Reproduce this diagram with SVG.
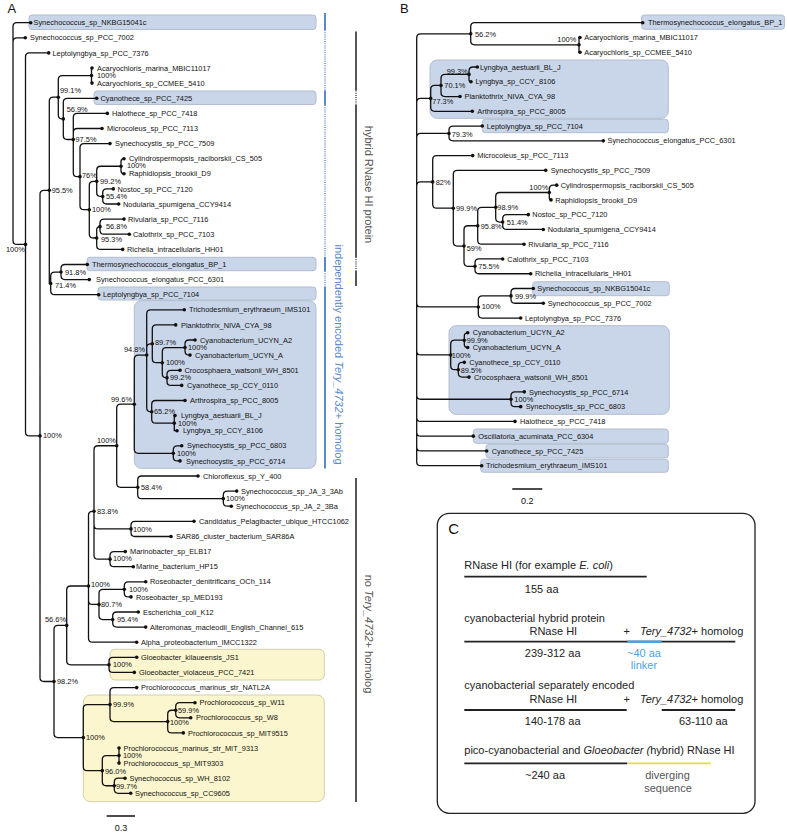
<svg xmlns="http://www.w3.org/2000/svg" width="787" height="834" viewBox="0 0 787 834">
<style>
text{font-family:"Liberation Sans",Arial,sans-serif;fill:#111}
.t{font-size:7.4px}
.b{font-size:7.4px}
.e{fill:none;stroke:#111;stroke-width:1.3;stroke-linecap:round}
.bx{fill:#c9d6e9;stroke:#b2bdcf;stroke-width:1}
.yb{fill:#fbf6cd;stroke:#d3cfac;stroke-width:1}
.pl{font-size:13px}
.c{font-size:11px;fill:#222}
.g{font-size:11px;fill:#555}
.bl{font-size:11px;fill:#5b88c8}
</style>
<defs>
<circle id="dt" r="1.8" fill="#111"/>
</defs>

<!-- panel labels -->
<text class="pl" x="7.5" y="12.5">A</text>
<text class="pl" x="400" y="12.7">B</text>

<!-- ===== Panel A highlight boxes ===== -->
<g id="a-boxes">
<rect class="bx" x="29" y="15" width="287" height="14.5" rx="3"/>
<rect class="bx" x="94" y="91" width="222" height="13.5" rx="3"/>
<rect class="bx" x="87" y="257.3" width="229" height="13.4" rx="3"/>
<rect class="bx" x="98" y="287" width="218" height="13" rx="3"/>
<rect class="bx" x="134.3" y="300.7" width="181.7" height="167.6" rx="7"/>
<rect class="yb" x="110" y="649.3" width="214.3" height="30.7" rx="5"/>
<rect class="yb" x="83.3" y="695" width="241" height="106.7" rx="7"/>
</g>

<!-- ===== Panel B highlight boxes ===== -->
<g id="b-boxes">
<rect class="bx" x="641.5" y="15" width="143" height="14.3" rx="3"/>
<rect class="bx" x="430" y="60" width="238.3" height="58.3" rx="7"/>
<rect class="bx" x="482.3" y="119.3" width="186" height="13.4" rx="3"/>
<rect class="bx" x="532.7" y="281.7" width="136.6" height="14" rx="3"/>
<rect class="bx" x="449" y="325.7" width="220.3" height="88.6" rx="7"/>
<rect class="bx" x="473.3" y="429" width="195" height="14.3" rx="3"/>
<rect class="bx" x="486" y="444.3" width="182.3" height="13.7" rx="3"/>
<rect class="bx" x="480.7" y="459.3" width="187.6" height="13" rx="3"/>
</g>

<!-- ===== Connectors ===== -->
<g id="connectors">
<path class="e" d="M13 101.6 V26.7 Q13 22.7 17 22.7 H30.7 M13 101.6 V41.8 Q13 37.8 17 37.8 H25.3 M13 101.6 V240.4 Q13 244.4 17 244.4 H25.5
M25.5 244.4 V56.9 Q25.5 52.9 29.5 52.9 H48.7 M25.5 244.4 V431.9 Q25.5 435.9 29.5 435.9 H40
M40 435.9 V194.3 Q40 190.3 44 190.3 H49.3 M40 435.9 V677.5 Q40 681.5 44 681.5 H54
M49.3 190.3 V101.2 Q49.3 97.2 53.3 97.2 H58.3 M49.3 190.3 V283.4 H50.7
M58.3 97.2 V79.55 Q58.3 75.55 62.3 75.55 H91.5 M58.3 97.2 V114.9 Q58.3 118.9 62.3 118.9 H63.3
M91.5 75.55 V68 H92 M91.5 75.55 V83.1 H92
M63.3 118.9 V102.3 Q63.3 98.3 67.3 98.3 H96.7 M63.3 118.9 V135.5 Q63.3 139.5 67.3 139.5 H73.3
M73.3 139.5 V117.4 Q73.3 113.4 77.3 113.4 H107.3 M73.3 139.5 V132.5 Q73.3 128.5 77.3 128.5 H102 M73.3 139.5 V172.65 Q73.3 176.65 77.3 176.65 H80
M80 176.65 V147.6 Q80 143.6 84 143.6 H110 M80 176.65 V205.7 Q80 209.7 84 209.7 H89.3
M89.3 209.7 V185.35 Q89.3 181.35 93.3 181.35 H96.7 M89.3 209.7 V234 Q89.3 238 93.3 238 H96.7
M96.7 181.35 V170.25 Q96.7 166.25 100.7 166.25 H121 M96.7 181.35 V192.45 Q96.7 196.45 100.7 196.45 H102.7
M121 166.25 V161.7 Q121 158.7 124 158.7 M121 166.25 V170.8 Q121 173.8 124 173.8
M102.7 196.45 V192.9 Q102.7 188.9 106.7 188.9 H113.3 M102.7 196.45 V200 Q102.7 204 106.7 204 H118.7
M96.7 238 V229.95 Q96.7 226.65 100 226.65 M96.7 238 V245.4 Q96.7 249.4 100.7 249.4 H122.7
M100 226.65 V223.1 Q100 219.1 104 219.1 H124 M100 226.65 V230.2 Q100 234.2 104 234.2 H129.3
M50.7 283.4 V276.05 Q50.7 272.05 54.7 272.05 H61 M50.7 283.4 V290.7 Q50.7 294.7 54.7 294.7 H98.7
M61 272.05 V268.5 Q61 264.5 65 264.5 H87.3 M61 272.05 V275.6 Q61 279.6 65 279.6 H89.3
M54 681.5 V629.4 Q54 625.4 58 625.4 H66.7 M54 681.5 V733.6 Q54 737.6 58 737.6 H83.3
M66.7 625.4 V590 Q66.7 586 70.7 586 H88.5 M66.7 625.4 V660.85 Q66.7 664.85 70.7 664.85 H109
M88.5 586 V515.3 Q88.5 511.3 92.5 511.3 H94 M88.5 586 V600.45 Q88.5 604.45 92.5 604.45 H99 M88.5 586 V638.2 Q88.5 642.2 92.5 642.2 H136.7
M94 511.3 V449.75 Q94 445.75 98 445.75 H116.7 M94 511.3 V524.9 Q94 528.9 98 528.9 H131 M94 511.3 V555.15 Q94 559.15 98 559.15 H110
M116.7 445.75 V408.2 Q116.7 404.2 120.7 404.2 H134.3 M116.7 445.75 V483.3 Q116.7 487.3 120.7 487.3 H137.7
M134.3 404.2 V359.1 Q134.3 355.1 138.3 355.1 H146.7 M134.3 404.2 V449.35 Q134.3 453.35 138.3 453.35 H173.3
M146.7 355.1 V313.8 Q146.7 309.8 150.7 309.8 H184.3 M146.7 355.1 V347.8 Q146.7 343.8 150.7 343.8 H152.3 M146.7 355.1 V407.8 Q146.7 411.8 150.7 411.8 H151.7
M152.3 343.8 V328.9 Q152.3 324.9 156.3 324.9 H175.7 M152.3 343.8 V358.7 Q152.3 362.7 156.3 362.7 H162.3
M162.3 362.7 V351.55 Q162.3 347.55 166.3 347.55 H185 M162.3 362.7 V373.85 Q162.3 377.85 166.3 377.85 H167
M185 347.55 V344 Q185 340 189 340 H195 M185 347.55 V351.1 Q185 355.1 189 355.1 H190
M167 377.85 V374.3 Q167 370.3 171 370.3 H180 M167 377.85 V381.4 Q167 385.4 171 385.4 H181.7
M151.7 411.8 V404.5 Q151.7 400.5 155.7 400.5 H185 M151.7 411.8 V419.15 Q151.7 423.15 155.7 423.15 H174.3
M174.3 423.15 V415.6 H175 M174.3 423.15 V430.7 H177
M173.3 453.35 V449.8 Q173.3 445.8 177.3 445.8 H181.7 M173.3 453.35 V456.9 Q173.3 460.9 177.3 460.9 H180
M137.7 487.3 V480 Q137.7 476 141.7 476 H198 M137.7 487.3 V494.65 Q137.7 498.65 141.7 498.65 H223.3
M223.3 498.65 V495.1 Q223.3 491.1 227.3 491.1 H236.7 M223.3 498.65 V502.2 Q223.3 506.2 227.3 506.2 H231.3
M131 528.9 V525.3 Q131 521.3 135 521.3 H194 M131 528.9 V532.5 Q131 536.5 135 536.5 H171
M110 559.15 V555.6 Q110 551.6 114 551.6 H125.3 M110 559.15 V562.7 Q110 566.7 114 566.7 H133.3
M99 604.45 V593.35 Q99 589.35 103 589.35 H124.3 M99 604.45 V615.55 Q99 619.55 103 619.55 H112.7
M124.3 589.35 V585.8 Q124.3 581.8 128.3 581.8 H145.7 M124.3 589.35 V592.9 Q124.3 596.9 128.3 596.9 H131
M112.7 619.55 V616 Q112.7 612 116.7 612 H138.3 M112.7 619.55 V623.1 Q112.7 627.1 116.7 627.1 H145.7
M109 664.85 V661.3 Q109 657.3 113 657.3 H136.7 M109 664.85 V668.4 Q109 672.4 113 672.4 H134.3
M83.3 737.6 V708.6 Q83.3 704.6 87.3 704.6 H110 M83.3 737.6 V766.65 Q83.3 770.65 87.3 770.65 H102.3
M110 704.6 V691.6 Q110 687.6 114 687.6 H136.7 M110 704.6 V717.6 Q110 721.6 114 721.6 H167.7
M167.7 721.6 V714.25 Q167.7 710.25 171.7 710.25 H175.7 M167.7 721.6 V728.9 Q167.7 732.9 171.7 732.9 H183.3
M175.7 710.25 V706.7 Q175.7 702.7 179.7 702.7 H195 M175.7 710.25 V713.8 Q175.7 717.8 179.7 717.8 H190.7
M102.3 770.65 V759.55 Q102.3 755.55 106.3 755.55 H119 M102.3 770.65 V781.75 Q102.3 785.75 106.3 785.75 H114.3
M119 748 V763.1
M114.3 785.75 V782.2 Q114.3 778.2 118.3 778.2 H125 M114.3 785.75 V789.3 Q114.3 793.3 118.3 793.3 H130.7"/>
<path class="e" d="M416.7 250 V37.78 Q416.7 33.78 420.7 33.78 H470.7 M416.7 250 V102.38 Q416.7 98.38 420.7 98.38 H430.7 M416.7 250 V137.45 Q416.7 133.45 420.7 133.45 H449 M416.7 250 V185.9 Q416.7 181.9 420.7 181.9 H432.7
M416.7 250 V302.96 Q416.7 306.96 420.7 306.96 H478.3 M416.7 250 V350.95 Q416.7 354.95 420.7 354.95 H450.7 M416.7 250 V395.25 Q416.7 399.25 420.7 399.25 H511 M416.7 250 V417.4 Q416.7 421.4 420.7 421.4 H515 M416.7 250 V432.17 Q416.7 436.17 420.7 436.17 H473.3 M416.7 250 V446.93 Q416.7 450.93 420.7 450.93 H486.7 M416.7 250 V461.7 Q416.7 465.7 420.7 465.7 H481.7
M470.7 33.78 V26.7 Q470.7 22.7 474.7 22.7 H642.7 M470.7 33.78 V40.85 Q470.7 44.85 474.7 44.85 H579
M579 44.85 V37.47 H580 M579 44.85 V52.23 H580
M430.7 98.38 V89.46 Q430.7 85.46 434.7 85.46 H441 M430.7 98.38 V107.3 Q430.7 111.3 434.7 111.3 H472.3
M441 85.46 V78.38 Q441 74.38 445 74.38 H469 M441 85.46 V92.53 Q441 96.53 445 96.53 H460
M469 74.38 V71 Q469 67 473 67 H477.3 M469 74.38 V79.77 Q469 81.77 471 81.77
M449 133.45 V130.07 Q449 126.07 453 126.07 H482.3 M449 133.45 V136.83 Q449 140.83 453 140.83 H603.3
M432.7 181.9 V159.6 Q432.7 155.6 436.7 155.6 H472.7 M432.7 181.9 V204.21 Q432.7 208.21 436.7 208.21 H453.3
M453.3 208.21 V174.37 Q453.3 170.37 457.3 170.37 H545.7 M453.3 208.21 V242.05 Q453.3 246.05 457.3 246.05 H464
M464 246.05 V229.74 Q464 225.74 468 225.74 H477.7 M464 246.05 V262.35 Q464 266.35 468 266.35 H475
M477.7 225.74 V211.28 Q477.7 207.28 481.7 207.28 H495.7 M477.7 225.74 V240.2 Q477.7 244.2 481.7 244.2 H524
M495.7 207.28 V196.52 Q495.7 192.52 499.7 192.52 H549.3 M495.7 207.28 V218.05 Q495.7 222.05 499.7 222.05 H502.7
M549.3 192.52 V189.13 Q549.3 185.13 553.3 185.13 H556.7 M549.3 192.52 V198.2 Q549.3 199.9 551 199.9
M502.7 222.05 V218.67 Q502.7 214.67 506.7 214.67 H528.3 M502.7 222.05 V225.43 Q502.7 229.43 506.7 229.43 H543.3
M475 266.35 V262.97 Q475 258.97 479 258.97 H502.7 M475 266.35 V269.73 Q475 273.73 479 273.73 H530.7
M478.3 306.96 V299.88 Q478.3 295.88 482.3 295.88 H511 M478.3 306.96 V314.03 Q478.3 318.03 482.3 318.03 H520.7
M511 295.88 V292.5 Q511 288.5 515 288.5 H533.3 M511 295.88 V299.27 Q511 303.27 515 303.27 H543.3
M450.7 354.95 V344.18 Q450.7 340.18 454.7 340.18 H464.3 M450.7 354.95 V365.72 Q450.7 369.72 454.7 369.72 H458.3
M464.3 340.18 V336.2 Q464.3 332.8 467.7 332.8 M464.3 340.18 V344.17 Q464.3 347.57 467.7 347.57
M458.3 369.72 V366.33 Q458.3 362.33 462.3 362.33 H464.3 M458.3 369.72 V373.1 Q458.3 377.1 462.3 377.1 H469
M511 399.25 V395.87 Q511 391.87 515 391.87 H524.3 M511 399.25 V402.63 Q511 406.63 515 406.63 H520.7"/>
</g>

<!-- ===== Panel A leaves ===== -->
<g id="a-leaves" class="t">
<g id="a-L1"><use href="#dt" x="30.7" y="22.7"/><text x="33.5" y="25.3">Synechococcus_sp_NKBG15041c</text></g>
<g id="a-L2"><use href="#dt" x="25.3" y="37.8"/><text x="30" y="40.4">Synechococcus_sp_PCC_7002</text></g>
<g id="a-L3"><use href="#dt" x="48.7" y="52.9"/><text x="52.5" y="55.5">Leptolyngbya_sp_PCC_7376</text></g>
<g id="a-L4"><use href="#dt" x="92" y="68"/><text x="97" y="70.6">Acaryochloris_marina_MBIC11017</text></g>
<g id="a-L5"><use href="#dt" x="92" y="83.1"/><text x="97" y="85.7">Acaryochloris_sp_CCMEE_5410</text></g>
<g id="a-L6"><use href="#dt" x="96.7" y="98.3"/><text x="100.5" y="100.9">Cyanothece_sp_PCC_7425</text></g>
<g id="a-L7"><use href="#dt" x="107.3" y="113.4"/><text x="112" y="116">Halothece_sp_PCC_7418</text></g>
<g id="a-L8"><use href="#dt" x="102" y="128.5"/><text x="107" y="131.1">Microcoleus_sp_PCC_7113</text></g>
<g id="a-L9"><use href="#dt" x="110" y="143.6"/><text x="115" y="146.2">Synechocystis_sp_PCC_7509</text></g>
<g id="a-L10"><use href="#dt" x="124" y="158.7"/><text x="129" y="161.3">Cylindrospermopsis_raciborskii_CS_505</text></g>
<g id="a-L11"><use href="#dt" x="124" y="173.8"/><text x="129" y="176.4">Raphidiopsis_brookii_D9</text></g>
<g id="a-L12"><use href="#dt" x="113.3" y="188.9"/><text x="117.5" y="191.5">Nostoc_sp_PCC_7120</text></g>
<g id="a-L13"><use href="#dt" x="118.7" y="204"/><text x="123" y="206.6">Nodularia_spumigena_CCY9414</text></g>
<g id="a-L14"><use href="#dt" x="124" y="219.1"/><text x="128" y="221.7">Rivularia_sp_PCC_7116</text></g>
<g id="a-L15"><use href="#dt" x="129.3" y="234.2"/><text x="133" y="236.8">Calothrix_sp_PCC_7103</text></g>
<g id="a-L16"><use href="#dt" x="122.7" y="249.4"/><text x="127" y="252">Richelia_intracellularis_HH01</text></g>
<g id="a-L17"><use href="#dt" x="87.3" y="264.5"/><text x="92" y="267.1">Thermosynechococcus_elongatus_BP_1</text></g>
<g id="a-L18"><use href="#dt" x="89.3" y="279.6"/><text x="96" y="282.2">Synechococcus_elongatus_PCC_6301</text></g>
<g id="a-L19"><use href="#dt" x="98.7" y="294.7"/><text x="103" y="297.3">Leptolyngbya_sp_PCC_7104</text></g>
<g id="a-L20"><use href="#dt" x="184.3" y="309.8"/><text x="189" y="312.4">Trichodesmium_erythraeum_IMS101</text></g>
<g id="a-L21"><use href="#dt" x="175.7" y="324.9"/><text x="181" y="327.5">Planktothrix_NIVA_CYA_98</text></g>
<g id="a-L22"><use href="#dt" x="195" y="340"/><text x="200" y="342.6">Cyanobacterium_UCYN_A2</text></g>
<g id="a-L23"><use href="#dt" x="190" y="355.1"/><text x="195" y="357.7">Cyanobacterium_UCYN_A</text></g>
<g id="a-L24"><use href="#dt" x="180" y="370.3"/><text x="184.5" y="372.9">Crocosphaera_watsonii_WH_8501</text></g>
<g id="a-L25"><use href="#dt" x="181.7" y="385.4"/><text x="187" y="388">Cyanothece_sp_CCY_0110</text></g>
<g id="a-L26"><use href="#dt" x="185" y="400.5"/><text x="190" y="403.1">Arthrospira_sp_PCC_8005</text></g>
<g id="a-L27"><use href="#dt" x="175" y="415.6"/><text x="181" y="418.2">Lyngbya_aestuarii_BL_J</text></g>
<g id="a-L28"><use href="#dt" x="177" y="430.7"/><text x="183" y="433.3">Lyngbya_sp_CCY_8106</text></g>
<g id="a-L29"><use href="#dt" x="181.7" y="445.8"/><text x="187" y="448.4">Synechocystis_sp_PCC_6803</text></g>
<g id="a-L30"><use href="#dt" x="180" y="460.9"/><text x="186" y="463.5">Synechocystis_sp_PCC_6714</text></g>
<g id="a-L31"><use href="#dt" x="198" y="476"/><text x="203" y="478.6">Chloroflexus_sp_Y_400</text></g>
<g id="a-L32"><use href="#dt" x="236.7" y="491.1"/><text x="241" y="493.7">Synechococcus_sp_JA_3_3Ab</text></g>
<g id="a-L33"><use href="#dt" x="231.3" y="506.2"/><text x="236" y="508.8">Synechococcus_sp_JA_2_3Ba</text></g>
<g id="a-L34"><use href="#dt" x="194" y="521.3"/><text x="199" y="523.9">Candidatus_Pelagibacter_ubique_HTCC1062</text></g>
<g id="a-L35"><use href="#dt" x="171" y="536.5"/><text x="176" y="539.1">SAR86_cluster_bacterium_SAR86A</text></g>
<g id="a-L36"><use href="#dt" x="125.3" y="551.6"/><text x="130" y="554.2">Marinobacter_sp_ELB17</text></g>
<g id="a-L37"><use href="#dt" x="133.3" y="566.7"/><text x="136" y="569.3">Marine_bacterium_HP15</text></g>
<g id="a-L38"><use href="#dt" x="145.7" y="581.8"/><text x="150" y="584.4">Roseobacter_denitrificans_OCh_114</text></g>
<g id="a-L39"><use href="#dt" x="131" y="596.9"/><text x="136" y="599.5">Roseobacter_sp_MED193</text></g>
<g id="a-L40"><use href="#dt" x="138.3" y="612"/><text x="143" y="614.6">Escherichia_coli_K12</text></g>
<g id="a-L41"><use href="#dt" x="145.7" y="627.1"/><text x="150" y="629.7">Alteromonas_macleodii_English_Channel_615</text></g>
<g id="a-L42"><use href="#dt" x="136.7" y="642.2"/><text x="141" y="644.8">Alpha_proteobacterium_IMCC1322</text></g>
<g id="a-L43"><use href="#dt" x="136.7" y="657.3"/><text x="141" y="659.9">Gloeobacter_kilaueensis_JS1</text></g>
<g id="a-L44"><use href="#dt" x="134.3" y="672.4"/><text x="139" y="675">Gloeobacter_violaceus_PCC_7421</text></g>
<g id="a-L45"><use href="#dt" x="136.7" y="687.6"/><text x="141" y="690.2">Prochlorococcus_marinus_str_NATL2A</text></g>
<g id="a-L46"><use href="#dt" x="195" y="702.7"/><text x="199.5" y="705.3">Prochlorococcus_sp_W11</text></g>
<g id="a-L47"><use href="#dt" x="190.7" y="717.8"/><text x="196" y="720.4">Prochlorococcus_sp_W8</text></g>
<g id="a-L48"><use href="#dt" x="183.3" y="732.9"/><text x="188" y="735.5">Prochlorococcus_sp_MIT9515</text></g>
<g id="a-L49"><use href="#dt" x="119" y="748"/><text x="123.5" y="750.6">Prochlorococcus_marinus_str_MIT_9313</text></g>
<g id="a-L50"><use href="#dt" x="119" y="763.1"/><text x="123.5" y="765.7">Prochlorococcus_sp_MIT9303</text></g>
<g id="a-L51"><use href="#dt" x="125" y="778.2"/><text x="129.5" y="780.8">Synechococcus_sp_WH_8102</text></g>
<g id="a-L52"><use href="#dt" x="130.7" y="793.3"/><text x="135" y="795.9">Synechococcus_sp_CC9605</text></g>
</g>

<!-- ===== Panel A internal nodes ===== -->
<g id="a-internal" class="b">
<g id="a-n1"><use href="#dt" x="91.5" y="75.55"/><text x="97" y="77.9">100%</text></g>
<g id="a-n2"><use href="#dt" x="58.3" y="97.2"/><text x="60" y="93.3">99.1%</text></g>
<g id="a-n3"><use href="#dt" x="63.3" y="118.9"/><text x="66.7" y="111.6">56.9%</text></g>
<g id="a-n4"><use href="#dt" x="73.3" y="139.5"/><text x="75.5" y="141.6">97.5%</text></g>
<g id="a-n5"><use href="#dt" x="121" y="166.25"/><text x="127" y="168.3">100%</text></g>
<g id="a-n6"><use href="#dt" x="80" y="176.65"/><text x="82" y="177.6">76%</text></g>
<g id="a-n7"><use href="#dt" x="96.7" y="181.35"/><text x="100" y="184.3">99.2%</text></g>
<g id="a-n8"><use href="#dt" x="49.3" y="190.3"/><text x="51.7" y="193.3">95.5%</text></g>
<g id="a-n9"><use href="#dt" x="102.7" y="196.45"/><text x="106" y="199.3">55.4%</text></g>
<g id="a-n10"><use href="#dt" x="89.3" y="209.7"/><text x="92" y="212.3">100%</text></g>
<g id="a-n11"><use href="#dt" x="100" y="226.65"/><text x="106" y="229.3">56.8%</text></g>
<g id="a-n12"><use href="#dt" x="96.7" y="238"/><text x="101" y="241.6">95.3%</text></g>
<g id="a-n13"><use href="#dt" x="25.5" y="244.4"/><text x="6" y="251.9">100%</text></g>
<g id="a-n14"><use href="#dt" x="61" y="272.05"/><text x="65" y="275.3">91.8%</text></g>
<g id="a-n15"><use href="#dt" x="50.7" y="283.4"/><text x="55" y="288.3">71.4%</text></g>
<g id="a-n16"><use href="#dt" x="152.3" y="343.8"/><text x="155" y="345.3">89.7%</text></g>
<g id="a-n17"><use href="#dt" x="185" y="347.55"/><text x="188" y="349.9">100%</text></g>
<g id="a-n18"><use href="#dt" x="146.7" y="355.1"/><text x="124" y="352.3">94.8%</text></g>
<g id="a-n19"><use href="#dt" x="162.3" y="362.7"/><text x="166" y="364.6">100%</text></g>
<g id="a-n20"><use href="#dt" x="167" y="377.85"/><text x="170" y="380.3">99.2%</text></g>
<g id="a-n21"><use href="#dt" x="134.3" y="404.2"/><text x="111" y="401.9">99.6%</text></g>
<g id="a-n22"><use href="#dt" x="151.7" y="411.8"/><text x="154" y="414.3">65.2%</text></g>
<g id="a-n23"><use href="#dt" x="174.3" y="423.15"/><text x="178" y="425.9">100%</text></g>
<g id="a-n24"><use href="#dt" x="40" y="435.9"/><text x="43" y="438.3">100%</text></g>
<g id="a-n25"><use href="#dt" x="116.7" y="445.75"/><text x="97" y="442.9">100%</text></g>
<g id="a-n26"><use href="#dt" x="173.3" y="453.35"/><text x="177" y="455.9">100%</text></g>
<g id="a-n27"><use href="#dt" x="137.7" y="487.3"/><text x="141" y="489.9">58.4%</text></g>
<g id="a-n28"><use href="#dt" x="223.3" y="498.65"/><text x="226" y="501.3">100%</text></g>
<g id="a-n29"><use href="#dt" x="94" y="511.3"/><text x="97" y="513.6">83.8%</text></g>
<g id="a-n30"><use href="#dt" x="131" y="528.9"/><text x="133" y="531.6">100%</text></g>
<g id="a-n31"><use href="#dt" x="110" y="559.15"/><text x="113" y="560.9">100%</text></g>
<g id="a-n32"><use href="#dt" x="88.5" y="586"/><text x="91" y="586.6">100%</text></g>
<g id="a-n33"><use href="#dt" x="124.3" y="589.35"/><text x="129" y="591.9">100%</text></g>
<g id="a-n34"><use href="#dt" x="99" y="604.45"/><text x="101" y="606.6">80.7%</text></g>
<g id="a-n35"><use href="#dt" x="66.7" y="625.4"/><text x="45" y="622.3">56.6%</text></g>
<g id="a-n36"><use href="#dt" x="112.7" y="619.55"/><text x="117" y="622.3">95.4%</text></g>
<g id="a-n37"><use href="#dt" x="109" y="664.85"/><text x="113" y="667.3">100%</text></g>
<g id="a-n38"><use href="#dt" x="54" y="681.5"/><text x="57" y="683.9">98.2%</text></g>
<g id="a-n39"><use href="#dt" x="110" y="704.6"/><text x="113" y="706.9">99.9%</text></g>
<g id="a-n40"><use href="#dt" x="175.7" y="710.25"/><text x="178" y="712.9">59.9%</text></g>
<g id="a-n41"><use href="#dt" x="167.7" y="721.6"/><text x="170" y="724.9">100%</text></g>
<g id="a-n42"><use href="#dt" x="83.3" y="737.6"/><text x="86" y="739.6">100%</text></g>
<g id="a-n43"><use href="#dt" x="119" y="755.55"/><text x="123" y="757.9">100%</text></g>
<g id="a-n44"><use href="#dt" x="102.3" y="770.65"/><text x="105" y="773.6">96.0%</text></g>
<g id="a-n45"><use href="#dt" x="114.3" y="785.75"/><text x="116" y="788.6">99.7%</text></g>
</g>

<!-- ===== Panel A side annotations ===== -->
<g id="a-annot">
<g fill="none" stroke="#5b88c8">
<path stroke-width="2" d="M325 13 V30 M325 90.5 V105 M325 257 V271 M325 286.5 V468.5"/>
<path stroke-width="1.4" stroke-dasharray="1 1.2" d="M325 30 V90.5 M325 105 V257 M325 271 V286.5"/>
</g>
<g fill="none" stroke="#555">
<path stroke-width="2" d="M356 31.5 V90.5 M356 105 V257 M356 271 V286 M356 478 V802"/>
<path stroke-width="1.6" stroke-dasharray="1 1.2" d="M356 90.5 V105 M356 257 V271"/>
</g>
<text class="g" text-anchor="middle" transform="translate(368.5 184.5) rotate(90)" y="4">hybrid RNase HI protein</text>
<text class="bl" text-anchor="middle" transform="translate(338.5 354.5) rotate(90)" y="4">independently encoded <tspan font-style="italic">Tery_4732</tspan>+ homolog</text>
<text class="g" text-anchor="middle" transform="translate(368.5 634) rotate(90)" y="4">no <tspan font-style="italic">Tery_4732</tspan>+ homolog</text>
<path d="M106.7 816 H135" stroke="#111" stroke-width="1.5"/>
<text x="121" y="831" font-size="9" text-anchor="middle">0.3</text>
</g>

<!-- ===== Panel B leaves ===== -->
<g id="b-leaves" class="t">
<g id="b-L0"><use href="#dt" x="642.7" y="22.7"/><text x="648" y="25.3">Thermosynechococcus_elongatus_BP_1</text></g>
<g id="b-L1"><use href="#dt" x="580" y="37.47"/><text x="584.3" y="40.1">Acaryochloris_marina_MBIC11017</text></g>
<g id="b-L2"><use href="#dt" x="580" y="52.23"/><text x="584.3" y="54.8">Acaryochloris_sp_CCMEE_5410</text></g>
<g id="b-L3"><use href="#dt" x="477.3" y="67"/><text x="480" y="69.6">Lyngbya_aestuarii_BL_J</text></g>
<g id="b-L4"><use href="#dt" x="471" y="81.77"/><text x="475.5" y="84.4">Lyngbya_sp_CCY_8106</text></g>
<g id="b-L5"><use href="#dt" x="460" y="96.53"/><text x="464.5" y="99.1">Planktothrix_NIVA_CYA_98</text></g>
<g id="b-L6"><use href="#dt" x="472.3" y="111.3"/><text x="477.3" y="113.9">Arthrospira_sp_PCC_8005</text></g>
<g id="b-L7"><use href="#dt" x="482.3" y="126.07"/><text x="486.7" y="128.7">Leptolyngbya_sp_PCC_7104</text></g>
<g id="b-L8"><use href="#dt" x="603.3" y="140.83"/><text x="607.5" y="143.4">Synechococcus_elongatus_PCC_6301</text></g>
<g id="b-L9"><use href="#dt" x="472.7" y="155.6"/><text x="477.3" y="158.2">Microcoleus_sp_PCC_7113</text></g>
<g id="b-L10"><use href="#dt" x="545.7" y="170.37"/><text x="550.7" y="173">Synechocystis_sp_PCC_7509</text></g>
<g id="b-L11"><use href="#dt" x="556.7" y="185.13"/><text x="560.7" y="187.7">Cylindrospermopsis_raciborskii_CS_505</text></g>
<g id="b-L12"><use href="#dt" x="551" y="199.9"/><text x="555.3" y="202.5">Raphidiopsis_brookii_D9</text></g>
<g id="b-L13"><use href="#dt" x="528.3" y="214.67"/><text x="532.3" y="217.3">Nostoc_sp_PCC_7120</text></g>
<g id="b-L14"><use href="#dt" x="543.3" y="229.43"/><text x="547.7" y="232">Nodularia_spumigena_CCY9414</text></g>
<g id="b-L15"><use href="#dt" x="524" y="244.2"/><text x="528.3" y="246.8">Rivularia_sp_PCC_7116</text></g>
<g id="b-L16"><use href="#dt" x="502.7" y="258.97"/><text x="507.3" y="261.6">Calothrix_sp_PCC_7103</text></g>
<g id="b-L17"><use href="#dt" x="530.7" y="273.73"/><text x="535" y="276.3">Richelia_intracellularis_HH01</text></g>
<g id="b-L18"><use href="#dt" x="533.3" y="288.5"/><text x="537.3" y="291.1">Synechococcus_sp_NKBG15041c</text></g>
<g id="b-L19"><use href="#dt" x="543.3" y="303.27"/><text x="547.7" y="305.9">Synechococcus_sp_PCC_7002</text></g>
<g id="b-L20"><use href="#dt" x="520.7" y="318.03"/><text x="525" y="320.6">Leptolyngbya_sp_PCC_7376</text></g>
<g id="b-L21"><use href="#dt" x="467.7" y="332.8"/><text x="472.7" y="335.4">Cyanobacterium_UCYN_A2</text></g>
<g id="b-L22"><use href="#dt" x="467.7" y="347.57"/><text x="472.7" y="350.2">Cyanobacterium_UCYN_A</text></g>
<g id="b-L23"><use href="#dt" x="464.3" y="362.33"/><text x="469.3" y="364.9">Cyanothece_sp_CCY_0110</text></g>
<g id="b-L24"><use href="#dt" x="469" y="377.1"/><text x="474" y="379.7">Crocosphaera_watsonii_WH_8501</text></g>
<g id="b-L25"><use href="#dt" x="524.3" y="391.87"/><text x="529" y="394.5">Synechocystis_sp_PCC_6714</text></g>
<g id="b-L26"><use href="#dt" x="520.7" y="406.63"/><text x="525.7" y="409.2">Synechocystis_sp_PCC_6803</text></g>
<g id="b-L27"><use href="#dt" x="515" y="421.4"/><text x="520" y="424">Halothece_sp_PCC_7418</text></g>
<g id="b-L28"><use href="#dt" x="473.3" y="436.17"/><text x="478.3" y="438.8">Oscillatoria_acuminata_PCC_6304</text></g>
<g id="b-L29"><use href="#dt" x="486.7" y="450.93"/><text x="491.7" y="453.5">Cyanothece_sp_PCC_7425</text></g>
<g id="b-L30"><use href="#dt" x="481.7" y="465.7"/><text x="486" y="468.3">Trichodesmium_erythraeum_IMS101</text></g>
</g>

<!-- ===== Panel B internal nodes ===== -->
<g id="b-internal" class="b">
<g id="b-n1"><use href="#dt" x="470.7" y="33.78"/><text x="475" y="36.9">56.2%</text></g>
<g id="b-n2"><use href="#dt" x="579" y="44.85"/><text x="557.3" y="41.9">100%</text></g>
<g id="b-n3"><use href="#dt" x="469" y="74.38"/><text x="446.7" y="73.6">99.3%</text></g>
<g id="b-n4"><use href="#dt" x="441" y="85.46"/><text x="444.3" y="87.6">70.1%</text></g>
<g id="b-n5"><use href="#dt" x="430.7" y="98.38"/><text x="432.3" y="104.3">77.3%</text></g>
<g id="b-n6"><use href="#dt" x="449" y="133.45"/><text x="451.7" y="136.6">79.3%</text></g>
<g id="b-n7"><use href="#dt" x="432.7" y="181.9"/><text x="435.7" y="184.9">82%</text></g>
<g id="b-n8"><use href="#dt" x="549.3" y="192.52"/><text x="529.3" y="189.9">100%</text></g>
<g id="b-n9"><use href="#dt" x="495.7" y="207.28"/><text x="497.3" y="209.9">98.9%</text></g>
<g id="b-n10"><use href="#dt" x="453.3" y="208.21"/><text x="456" y="210.9">99.9%</text></g>
<g id="b-n11"><use href="#dt" x="502.7" y="222.05"/><text x="506.7" y="224.6">51.4%</text></g>
<g id="b-n12"><use href="#dt" x="477.7" y="225.74"/><text x="480.7" y="229.3">95.8%</text></g>
<g id="b-n13"><use href="#dt" x="464" y="246.05"/><text x="466.7" y="250.9">59%</text></g>
<g id="b-n14"><use href="#dt" x="475" y="266.35"/><text x="478.3" y="269.3">75.5%</text></g>
<g id="b-n15"><use href="#dt" x="511" y="295.88"/><text x="515" y="299.3">99.9%</text></g>
<g id="b-n16"><use href="#dt" x="478.3" y="306.96"/><text x="481.7" y="309.3">100%</text></g>
<g id="b-n17"><use href="#dt" x="464.3" y="340.18"/><text x="466.7" y="342.6">99.9%</text></g>
<g id="b-n18"><use href="#dt" x="450.7" y="354.95"/><text x="451.7" y="357.6">100%</text></g>
<g id="b-n19"><use href="#dt" x="458.3" y="369.72"/><text x="460.7" y="373.3">89.5%</text></g>
<g id="b-n20"><use href="#dt" x="511" y="399.25"/><text x="514.3" y="401.9">100%</text></g>
</g>

<g id="b-scale">
<path d="M512.3 489 H542.3" stroke="#111" stroke-width="1.5"/>
<text x="527.3" y="504" font-size="9" text-anchor="middle">0.2</text>
</g>

<!-- ===== Panel C ===== -->
<g id="panel-c">
<rect x="437.3" y="513.3" width="317.7" height="300" rx="12" fill="#fff" stroke="#222" stroke-width="1.3"/>
<text x="448.3" y="534" font-size="15" fill="#222">C</text>
<g id="c-ecoli">
<text class="c" x="464.3" y="569">RNase HI (for example <tspan font-style="italic">E. coli</tspan>)</text>
<path d="M464.3 576.7 H646.7" stroke="#222" stroke-width="1.8"/>
<text class="c" x="541.7" y="592.7" text-anchor="middle">155 aa</text>
</g>
<g id="c-hybrid">
<text class="c" x="464.3" y="621.7">cyanobacterial hybrid protein</text>
<text class="c" x="553.3" y="635" text-anchor="middle">RNase HI</text>
<text class="c" x="626.7" y="635" text-anchor="middle">+</text>
<text class="c" x="640" y="635"><tspan font-style="italic">Tery_4732</tspan>+ homolog</text>
<path d="M464.3 641.7 H735.3" stroke="#222" stroke-width="1.8"/>
<path d="M627.3 641.7 H661.7" stroke="#4ba3e3" stroke-width="2.4"/>
<text class="c" x="552.7" y="656.7" text-anchor="middle">239-312 aa</text>
<text class="c" x="644" y="656.7" text-anchor="middle" style="fill:#4ba3e3">~40 aa</text>
<text class="c" x="644" y="669" text-anchor="middle" style="fill:#4ba3e3">linker</text>
</g>
<g id="c-separate">
<text class="c" x="464.3" y="689">cyanobacterial separately encoded</text>
<text class="c" x="553.3" y="703.3" text-anchor="middle">RNase HI</text>
<text class="c" x="626.7" y="703.3" text-anchor="middle">+</text>
<text class="c" x="640" y="703.3"><tspan font-style="italic">Tery_4732</tspan>+ homolog</text>
<path d="M464.3 710 H626.7 M661.7 710 H735.3" stroke="#222" stroke-width="1.8"/>
<text class="c" x="552.7" y="724.7" text-anchor="middle">140-178 aa</text>
<text class="c" x="703.3" y="724.7" text-anchor="middle">63-110 aa</text>
</g>
<g id="c-pico">
<text class="c" x="464.3" y="754">pico-cyanobacterial and <tspan font-style="italic">Gloeobacter (</tspan>hybrid) RNase HI</text>
<path d="M464.3 763.3 H627.3" stroke="#222" stroke-width="1.8"/>
<path d="M627.3 763.3 H710.7" stroke="#e6df3a" stroke-width="1.8"/>
<text class="c" x="545" y="778.7" text-anchor="middle">~240 aa</text>
<text class="g" x="667.5" y="779.3" text-anchor="middle">diverging</text>
<text class="g" x="668" y="791.7" text-anchor="middle">sequence</text>
</g>
</g>
</svg>
